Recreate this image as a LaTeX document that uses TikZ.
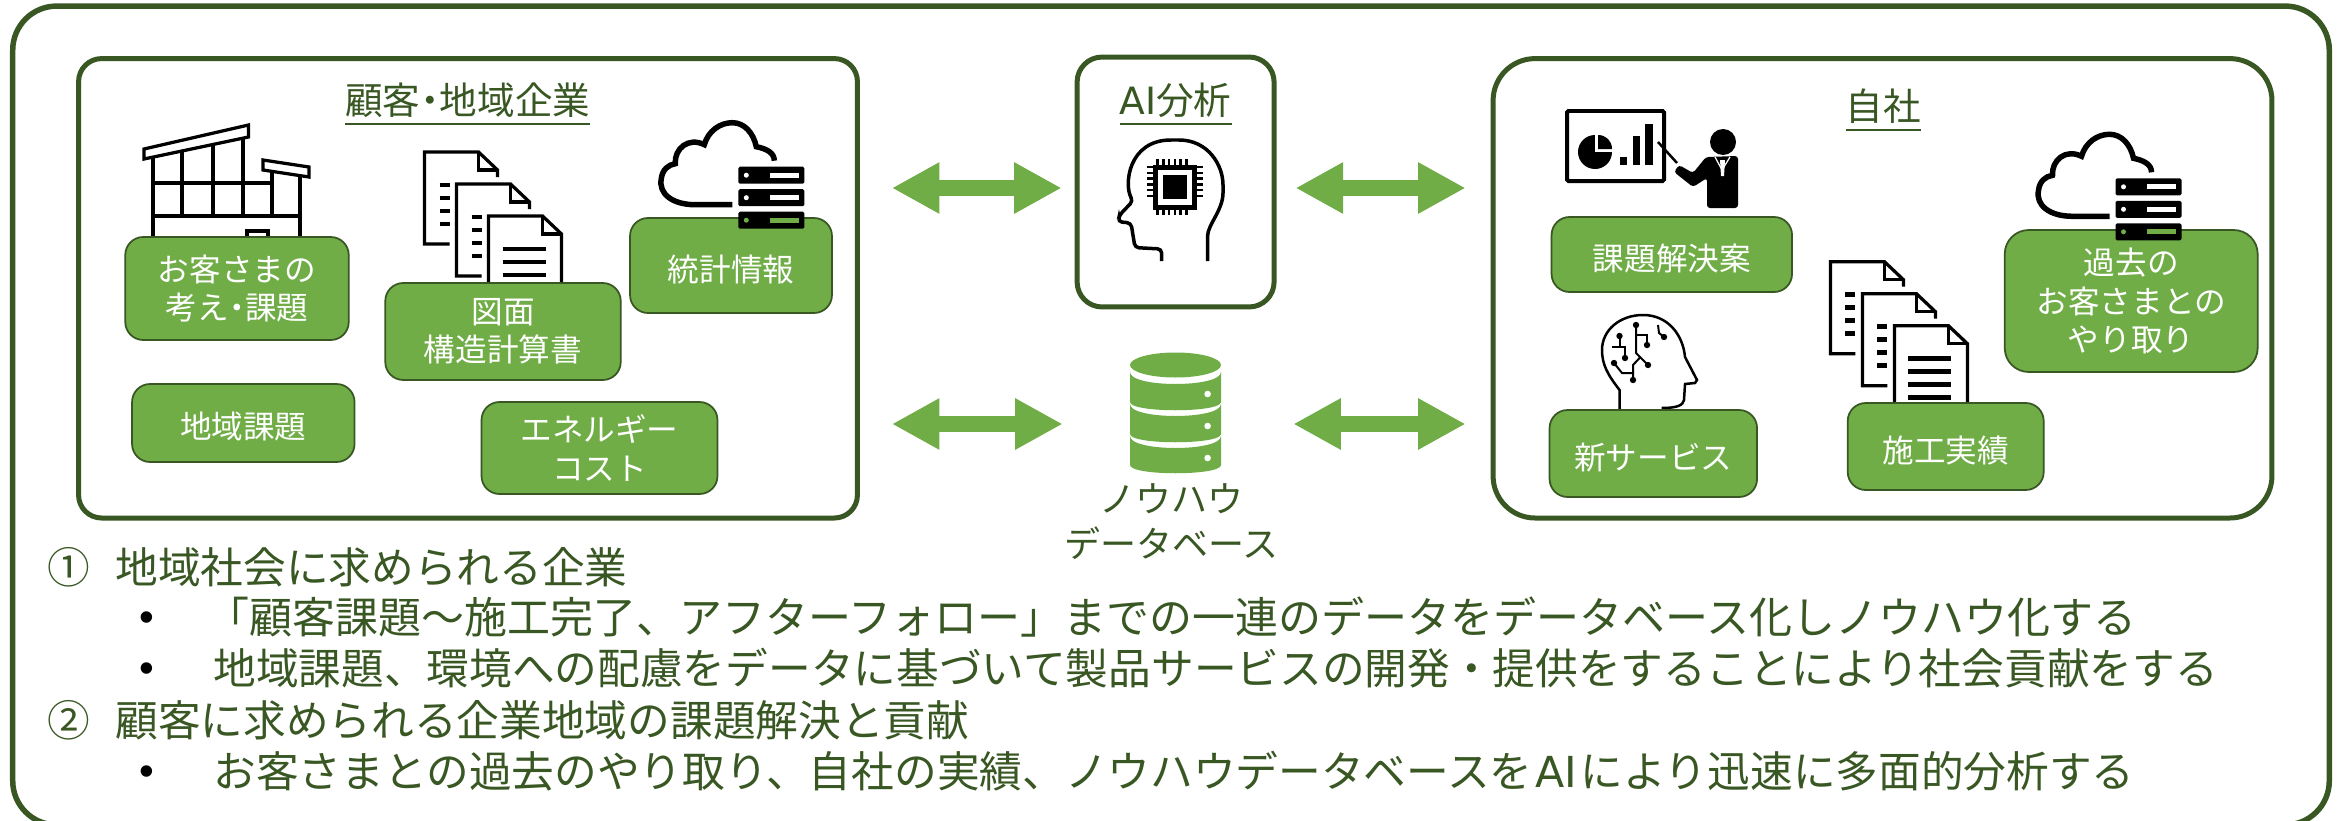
\documentclass[tikz,border=0pt]{standalone}
\usepackage{fontspec}
\setmainfont{Noto Sans CJK JP}
\newfontfamily\latinfont{DejaVu Sans}
\newfontfamily\bulletfont{Liberation Sans}
\usepackage{xcolor}
\usetikzlibrary{arrows.meta}
\definecolor{leaf}{HTML}{70AD47}
\definecolor{darkleaf}{HTML}{385723}
\newcommand{\ultext}[1]{\setbox0=\hbox{#1}\dp0=1.2pt $\fontdimen8\textfont3=1.1pt\underline{\box0}$}
\newcommand{\nakaten}{\kern-0.24em・\kern-0.24em}
\tikzset{
    panel/.style={draw=darkleaf, line width=0.1cm, fill=white, inner sep=0pt},
    tagbox/.style={draw=darkleaf, line width=0.035cm, fill=leaf, text=white, align=center, inner sep=0pt,
        rounded corners=0.36cm, font=\fontsize{18}{21.8}\selectfont,
        execute at begin node={\rule{0pt}{19.2pt}}},
    paneltitle/.style={text=darkleaf, inner sep=0pt, font=\fontsize{21.4}{26}\selectfont},
    syncarrow/.style={leaf, line width=0.32cm, {Triangle[length=0.95cm,width=0.96cm]}-{Triangle[length=0.95cm,width=0.96cm]}},
    bodyline/.style={anchor=base west, text=darkleaf, inner sep=0pt, font=\fontsize{24.3}{28}\selectfont},
    bulletmark/.style={text=black, inner sep=0pt, font=\bulletfont\fontsize{24}{28}\selectfont},
    iconline/.style={black, line width=0.065cm, line join=miter},
}
% three overlapping pages, origin at the top left of the first
\newcommand{\docstack}[2]{
    \begin{scope}[shift={(#1,#2)}]
        \foreach \d in {0,32} {
            \draw[iconline, fill=white] (\d+25,\d+92) -- (\d,\d+92) -- (\d,\d) -- (\d+54,\d) -- (\d+73,\d+18) -- (\d+73,\d+25);
            \draw[iconline] (\d+54,\d) -- (\d+54,\d+18) -- (\d+73,\d+18);
            \foreach \y in {33,46,59,72} {
                \draw[iconline, line width=0.09cm] (\d+15,\d+\y) -- (\d+25,\d+\y);
            }
        }
        \draw[iconline, fill=white] (64,64) -- (118,64) -- (137,82) -- (137,156) -- (64,156) -- cycle;
        \draw[iconline] (118,64) -- (118,82) -- (137,82);
        \foreach \y in {97,110,123,136} {
            \draw[iconline, line width=0.09cm] (78,\y) -- (121,\y);
        }
    \end{scope}
}
% cloud and server rack, origin at the top left of the rack
\newcommand{\cloudrack}[2]{
    \begin{scope}[shift={(#1,#2)}]
        \draw[black, line width=0.11cm] (-6,38) -- (-43,38) .. controls (-66,38) and (-80,27) .. (-77,12)
            .. controls (-76,3) and (-70,-2) .. (-63,-3) .. controls (-64,-18) and (-50,-30) .. (-34,-22)
            .. controls (-30,-36) and (-18,-44) .. (-6,-44) .. controls (6,-44) and (15,-34) .. (18,-20)
            .. controls (28,-18) and (36,-14) .. (36,-6);
        \foreach \y/\c in {0/white,22.5/white,45/leaf} {
            \fill[black, rounded corners=0.03cm] (0,\y) rectangle (66,\y+17);
            \fill[\c] (31.5,\y+6) rectangle (60.5,\y+11);
            \fill[\c] (8,\y+8.5) circle (2.5);
        }
    \end{scope}
}
\begin{document}
\begin{tikzpicture}[x=0.02cm, y=-0.02cm]
    \useasboundingbox (0,0) rectangle (2349,821);

    % Outer frame
    \node[panel, line width=0.11cm, minimum width=46.34cm, minimum height=16.38cm, rounded corners=0.88cm] (frame) at (1171,415.5) {};

    % Customer panel (left)
    \node[panel, minimum width=15.58cm, minimum height=9.19cm, rounded corners=0.46cm] (custpanel) at (468,288.3) {};
    \node[paneltitle] (custtitle) at (467.7,105) {\ultext{顧客\nakaten 地域企業}};

    % building behind the first box
    \begin{scope}[xshift=-0.02cm]
        \draw[iconline] (154,158) -- (154,240);
        \draw[iconline] (183,152) -- (183,216);
        \draw[iconline] (214,145) -- (214,216);
        \draw[iconline] (244,137) -- (244,216);
        \draw[iconline] (273,172) -- (273,216);
        \draw[iconline] (301,175) -- (301,240);
        \draw[iconline] (154,183) -- (273,183);
        \draw[iconline] (154,216) -- (301,216);
        \draw[iconline, fill=white] (145,149) -- (249.5,125) -- (249.5,137) -- (145,159) -- cycle;
        \draw[iconline, fill=white] (264,160) -- (310,167) -- (310,177) -- (264,170) -- cycle;
        \draw[iconline] (248,240) -- (248,231) -- (269,231) -- (269,240);
    \end{scope}
    \docstack{424.5}{152}

    \node[tagbox, minimum width=4.47cm, minimum height=2.06cm] (custview) at (237,288.5) {お客さまの\\考え\nakaten 課題};
    \node[tagbox, minimum width=4.71cm, minimum height=1.94cm] (drawings) at (503,331.5) {図面\\構造計算書};
    \node[tagbox, minimum width=4.04cm, minimum height=1.9cm] (stats) at (731,265.5) {統計情報};
    \node[tagbox, minimum width=4.45cm, minimum height=1.56cm] (regional) at (243.3,423) {地域課題};
    \node[tagbox, minimum width=4.72cm, minimum height=1.84cm] (energy) at (599.5,448) {エネルギー\\コスト};
    \cloudrack{738.3}{166.7}

    % AI panel (middle)
    \node[panel, minimum width=3.94cm, minimum height=5cm, rounded corners=0.5cm] (aipanel) at (1175.6,182) {};
    \node[paneltitle] (aititle) at (1175.5,105) {\ultext{{\latinfont AI}分析}};
    \draw[black, line width=0.07cm, rounded corners=0.08cm] (1161.6,261) -- (1161.6,249) -- (1135,247.6) -- (1131,223) -- (1118,221.7) -- (1119.5,215) -- (1133,201)
        .. controls (1124,185) and (1128,140) .. (1175,140) .. controls (1208,140) and (1223,165) .. (1223,189)
        .. controls (1223,210) and (1207.6,225) .. (1207.6,240) -- (1207.6,261);
    \foreach \p in {0,...,5} {
        \draw[black, line width=0.05cm] (1157.5+\p*5.8,159) -- (1157.5+\p*5.8,215);
        \draw[black, line width=0.05cm] (1147,167+\p*5.8) -- (1203,167+\p*5.8);
    }
    \fill[black] (1153,164.5) rectangle (1197,209.5);
    \fill[white] (1158,169.5) rectangle (1192,204.5);
    \fill[black] (1163,175) rectangle (1187,199);

    % Database (middle)
    \node[inner sep=0pt, minimum width=1.82cm, minimum height=2.44cm] (dbicon) at (1175.5,413) {};
    \fill[leaf] (1175.5,365) ellipse (45.5 and 12.5);
    \foreach \ys/\ye/\yd in {372/402/394, 404/434/426, 436/465/458} {
        \fill[leaf] (1130,\ys) .. controls (1130,\ys+16) and (1221,\ys+16) .. (1221,\ys) -- (1221,\ye)
            .. controls (1221,\ye+11) and (1130,\ye+11) .. (1130,\ye) -- cycle;
        \fill[white] (1207.6,\yd) circle (3.3);
    }
    \node[text=darkleaf, align=center, inner sep=0pt, font=\fontsize{20.5}{25.6}\selectfont] (dblabel) at (1171.5,522) {ノウハウ\\データベース};

    % Own company panel (right)
    \node[panel, minimum width=15.58cm, minimum height=9.19cm, rounded corners=0.84cm] (ownpanel) at (1882.5,288.3) {};
    \node[paneltitle] (owntitle) at (1883.5,111) {\ultext{自社}};

    % presenter and chart
    \draw[black, line width=0.08cm, rounded corners=0.03cm] (1567,111) rectangle (1664,181);
    \fill[black] (1595,152) circle (17);
    \fill[white] (1595,152) rectangle (1613,134);
    \fill[black] (1598,149) -- (1598,135) .. controls (1606,135) and (1612,141) .. (1612,149) -- cycle;
    \fill[black] (1619.5,157) rectangle (1627,165);
    \fill[black] (1632.6,136) rectangle (1639.5,165);
    \fill[black] (1645,124) rectangle (1652.6,165);
    \draw[black, line width=0.05cm] (1658,142) -- (1677,163);
    \fill[black] (1723,142) ellipse (13 and 13);
    \fill[black, rounded corners=0.06cm] (1706,157) -- (1738,156) -- (1738,208) -- (1707,208) -- (1707,178) -- (1693,187) -- (1674,172) -- (1679,165) -- (1693,173) -- cycle;
    \draw[white, line width=0.025cm] (1715,157) -- (1722,170) -- (1730,157);
    \fill[white] (1720,160) -- (1725,160) -- (1724,176) -- (1721,176) -- cycle;

    % head with circuits
    \draw[iconline, line width=0.05cm] (1619.5,412) -- (1619.5,390) .. controls (1608,375) and (1602,365) .. (1602,350)
        .. controls (1602,330) and (1620,315) .. (1643,315) .. controls (1668,315) and (1683,335) .. (1685,357)
        -- (1697,380) -- (1695,383) -- (1685,384) -- (1684,400) .. controls (1683,405) and (1678,408) .. (1661.6,408);
    \foreach \a/\b in {1619.5/336, 1636/325, 1647/345, 1625/358, 1664/337, 1614/363, 1648/365, 1633/380} {
        \fill[black] (\a,\b) circle (3.2);
    }
    \draw[iconline, line width=0.04cm] (1611.6,347) -- (1625,347) -- (1625,358);
    \draw[iconline, line width=0.04cm] (1619.5,336) -- (1619.5,347);
    \draw[iconline, line width=0.04cm] (1636,325) -- (1636,353) -- (1648,365);
    \draw[iconline, line width=0.04cm] (1636,335) -- (1647,335) -- (1647,345);
    \draw[iconline, line width=0.04cm] (1658,325) -- (1659,333) -- (1664,337);
    \draw[iconline, line width=0.04cm] (1614,363) -- (1622,373) -- (1633,373) -- (1633,380);
    \draw[iconline, line width=0.04cm] (1633,373) -- (1633,365) -- (1640.5,357);

    \docstack{1830.4}{261.7}

    \node[tagbox, minimum width=4.81cm, minimum height=1.5cm] (solution) at (1671.8,254.5) {課題解決案};
    \node[tagbox, minimum width=4.15cm, minimum height=1.74cm] (newservice) at (1653.3,453.5) {新サービス};
    \node[tagbox, minimum width=3.92cm, minimum height=1.74cm] (results) at (1945.7,446.5) {施工実績};
    \node[tagbox, minimum width=5.06cm, minimum height=2.84cm, rounded corners=0.48cm] (history) at (2131.2,301) {過去の\\お客さまとの\\やり取り};
    \cloudrack{2115.5}{178.3}

    % Double arrows between the panels
    \coordinate (rowtop) at (0,188);
    \coordinate (rowlow) at (0,424);
    \draw[syncarrow, shorten <=0.64cm, shorten >=0.26cm] (custpanel.east |- rowtop) -- (aipanel.west |- rowtop);
    \draw[syncarrow, shorten <=0.38cm, shorten >=0.5cm] (aipanel.east |- rowtop) -- (ownpanel.west |- rowtop);
    \draw[syncarrow, shorten <=0.64cm, shorten >=1.34cm] (custpanel.east |- rowlow) -- (dbicon.west |- rowlow);
    \draw[syncarrow, shorten <=1.44cm, shorten >=0.5cm] (dbicon.east |- rowlow) -- (ownpanel.west |- rowlow);

    % Text below
    \node[bodyline] (markone) at (47,583) {①};
    \node[bodyline] (headone) at (115,583) {地域社会に求められる企業};
    \node[bulletmark] (bulleta) at (147,622) {•};
    \node[bodyline, font=\fontsize{24.47}{28}\selectfont] (linea) at (206,633) {「顧客課題～施工完了、アフターフォロー」までの一連のデータをデータベース化しノウハウ化する};
    \node[bulletmark] (bulletb) at (147,673) {•};
    \node[bodyline] (lineb) at (213,684) {地域課題、環境への配慮をデータに基づいて製品サービスの開発・提供をすることにより社会貢献をする};
    \node[bodyline] (marktwo) at (47,736) {②};
    \node[bodyline] (headtwo) at (115,736) {顧客に求められる企業地域の課題解決と貢献};
    \node[bulletmark] (bulletc) at (147,776) {•};
    \node[bodyline] (linec) at (213,787) {お客さまとの過去のやり取り、自社の実績、ノウハウデータベースを\kern1.7pt{\latinfont AI}\kern1.7pt により迅速に多面的分析する};
\end{tikzpicture}
\end{document}
